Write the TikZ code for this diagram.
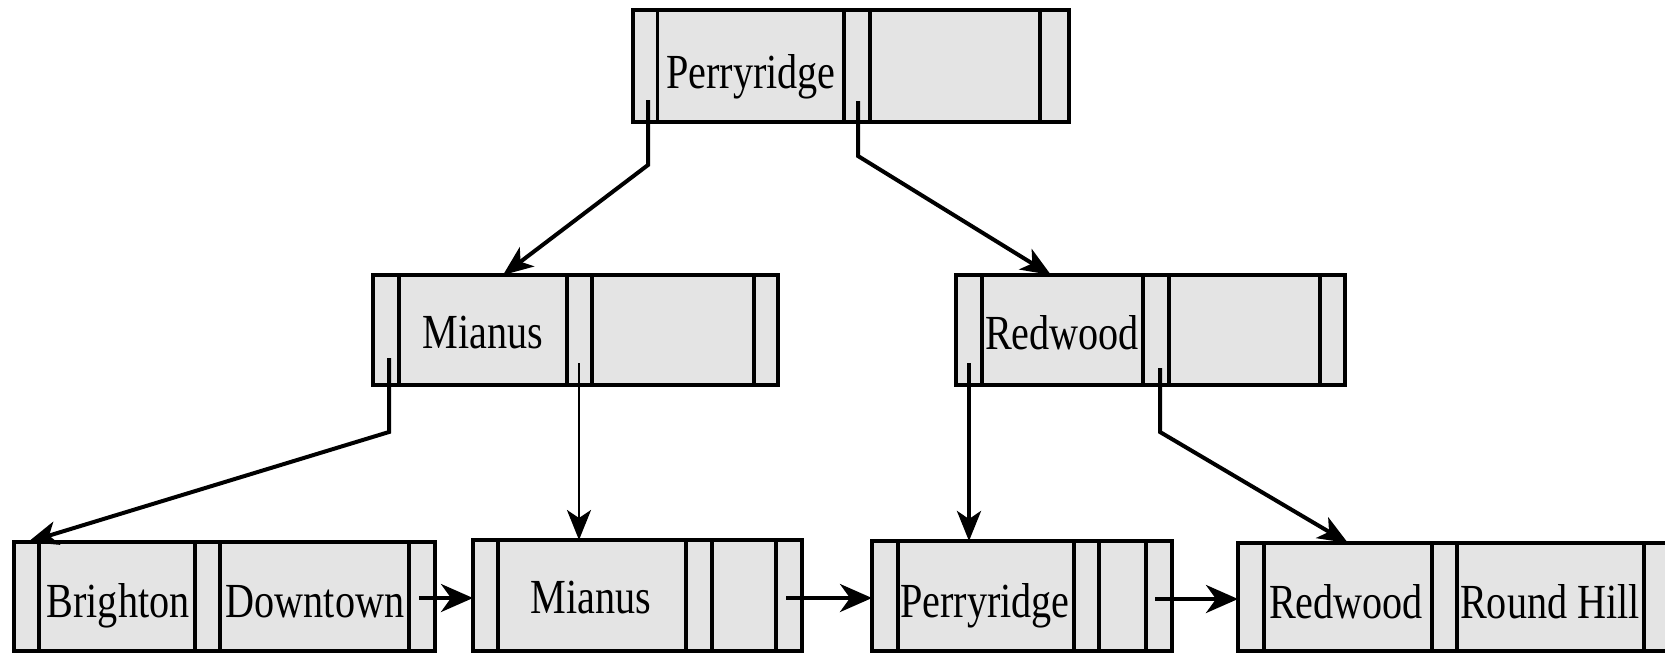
\documentclass[tikz,border=0pt]{standalone}
\usepackage{fontspec}
\setmainfont{Liberation Serif}
\usepackage{graphicx}
\usetikzlibrary{arrows.meta}
\definecolor{boxgray}{HTML}{E4E4E4}
\newcommand\hs[1]{\scalebox{0.82}[1]{#1}}
\tikzset{
  bx/.style={draw=black, fill=boxgray, inner sep=0pt, outer sep=0pt, anchor=north west},
  lbl/.style={anchor=base, inner sep=0pt, font=\fontsize{24.5pt}{27pt}\selectfont},
  ptr/.style={line width=2pt, line join=miter, -{Stealth[length=15pt,width=12pt,inset=4pt]}},
  lptr/.style={line width=1.4pt, -{Stealth[length=15pt,width=12pt,inset=4pt]}},
  nxt/.style={line width=2pt, -{Stealth[length=16pt,width=14pt,inset=5pt]}}
}
\newcommand\mkbox[6]{\node[bx, line width=#6, minimum width={(#4-#2)*0.5pt}, minimum height={(#5-#3)*0.5pt}] (#1) at (#2,#3) {};}
\newcommand\dv[3]{\draw[line width=#3] (#2,0 |- #1.north) -- (#2,0 |- #1.south);}
\begin{document}
\begin{tikzpicture}[x=0.5pt,y=-0.5pt]
\clip (0,0) rectangle (1665,654);
% root
\mkbox{root}{633}{10}{1069}{122}{2.4pt}
\dv{root}{657}{1.5pt}\dv{root}{844}{2.3pt}\dv{root}{870}{2pt}\dv{root}{1040}{2.2pt}
\node[lbl] (troot) at (751,88) {\hs{Perryridge}};
% middle
\mkbox{mA}{373}{275}{778}{385}{1.9pt}
\dv{mA}{399}{1.7pt}\dv{mA}{567}{2.2pt}\dv{mA}{592}{1.9pt}\dv{mA}{754}{1.9pt}
\node[lbl] (tmA) at (483,348) {\hs{Mianus}};
\mkbox{mB}{956}{275}{1345}{385}{1.9pt}
\dv{mB}{982}{1.6pt}\dv{mB}{1143}{2.2pt}\dv{mB}{1169}{1.9pt}\dv{mB}{1320}{1.9pt}
\node[lbl] (tmB) at (1062,349) {\hs{Redwood}};
% leaves
\mkbox{l1}{14}{542}{435}{651}{2.3pt}
\dv{l1}{39}{1.6pt}\dv{l1}{195}{1.8pt}\dv{l1}{220}{1.8pt}\dv{l1}{409}{1.9pt}
\node[lbl] (tl1a) at (118,617) {\hs{Brighton}};
\node[lbl] (tl1b) at (315,617) {\hs{Downtown}};
\mkbox{l2}{473}{540}{802}{651}{2.3pt}
\dv{l2}{498}{1.9pt}\dv{l2}{686}{2.2pt}\dv{l2}{712}{1.9pt}\dv{l2}{776}{1.9pt}
\node[lbl] (tl2) at (591,613) {\hs{Mianus}};
\mkbox{l3}{872}{541}{1172}{651}{2.3pt}
\dv{l3}{898}{1.9pt}\dv{l3}{1074}{1.6pt}\dv{l3}{1099}{2.2pt}\dv{l3}{1146}{2.2pt}
\node[lbl] (tl3) at (985,617) {\hs{Perryridge}};
\mkbox{l4}{1238}{543}{1690}{651}{2.3pt}
\dv{l4}{1264}{1.6pt}\dv{l4}{1432}{2.2pt}\dv{l4}{1457}{1.9pt}\dv{l4}{1644}{1.9pt}
\node[lbl] (tl4a) at (1346,618) {\hs{Redwood}};
\node[lbl] (tl4b) at (1550,618) {\hs{Round Hill}};
% pointers
\coordinate (p1) at (648,100); \coordinate (p1b) at (648,165);
\draw[ptr] (p1) -- (p1b) -- (503,0 |- mA.north);
\coordinate (p2) at (858,101); \coordinate (p2b) at (858,156);
\draw[ptr] (p2) -- (p2b) -- (1051,0 |- mB.north);
\coordinate (q1) at (389,358); \coordinate (q1b) at (389,432);
\draw[ptr] (q1) -- (q1b) -- (28,0 |- l1.north);
\coordinate (q2) at (579,363);
\draw[lptr] (q2) -- (579,0 |- l2.north);
\coordinate (q3) at (969,363);
\draw[ptr] (q3) -- (969,0 |- l3.north);
\coordinate (q4) at (1160,368); \coordinate (q4b) at (1160,432);
\draw[ptr] (q4) -- (q4b) -- (1348,0 |- l4.north);
\coordinate (s1) at (419,598);
\draw[nxt] (s1) -- (l2.west |- s1);
\coordinate (s2) at (786,598);
\draw[nxt] (s2) -- (l3.west |- s2);
\coordinate (s3) at (1155,599);
\draw[nxt] (s3) -- (l4.west |- s3);
\end{tikzpicture}
\end{document}
